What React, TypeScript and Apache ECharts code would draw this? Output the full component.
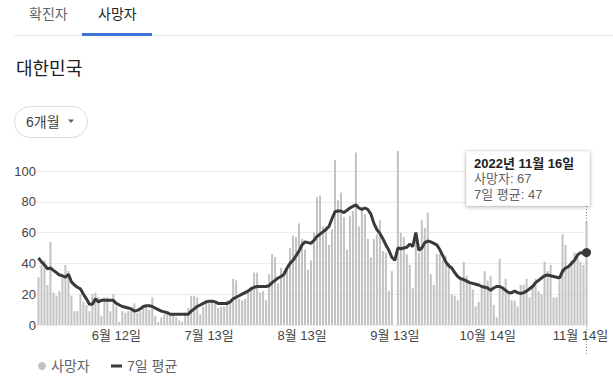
import React, { useEffect, useRef } from 'react';
import * as echarts from 'echarts';

const YEAR = 2022;
const START_MONTH = 5;
const START_DAY = 17;

const TABS = ['확진자', '사망자'];
const REGION = '대한민국';
const RANGE = '6개월';
const SERIES_NAMES = ['사망자', '7일 평균'];
const TICK_LABELS = ['6월 12일', '7월 13일', '8월 13일', '9월 13일', '10월 14일', '11월 14일'];
const Y_TICKS = [0, 20, 40, 60, 80, 100];

// daily deaths, 2022-05-17 .. 2022-11-16
const DEATHS = [
  31, 39, 42, 26, 54, 21, 19, 22, 32, 39, 35, 19, 9, 9, 20, 15, 13, 9, 20, 21, 18, 6, 18, 18, 9, 20, 12, 2, 9, 8, 9, 10, 14, 8, 9, 12, 13, 10, 18, 6, 2, 5, 7, 7, 7,
  7, 5, 3, 2, 8, 11, 19, 19, 18, 7, 12, 16, 15, 15, 14, 11, 12, 12, 16, 16, 30, 29, 17, 16, 17, 23, 25, 34, 34, 21, 22, 16, 33, 46, 44, 27, 37, 35, 36, 50, 58, 57, 66, 56, 49, 36, 42, 60,
  83, 84, 64, 64, 52, 62, 107, 81, 86, 70, 49, 71, 74, 112, 64, 77, 72, 56, 44, 56, 59, 68, 48, 47, 22, 35, 0, 113,
  60, 57, 46, 39, 24, 58, 47, 68, 63, 73, 33, 26, 46, 46,
  42, 45, 40, 20, 19, 16, 29, 41, 32, 27, 23, 12, 15, 24, 35, 29, 32, 13, 5, 43,
  24, 30, 20, 16, 16, 12, 26, 26,
  30, 18, 26, 30, 22, 20, 41, 35, 39, 18, 18, 29, 59, 52, 38, 42, 47, 46, 41, 39, 67,
];

// 7-day average as drawn
const AVG7 = [
  43.5, 41, 39, 36.5, 37, 35.5, 34, 32.5, 32, 31, 33, 28, 26, 24.5, 23.5, 20, 17, 13.5, 13.5, 17, 15, 16, 16, 16, 16, 16, 14, 13, 12, 11.5, 11, 10.5, 9, 9.5, 10.5, 12, 12.5, 12.5, 12, 11, 10, 9, 8.5, 8, 7,
  7, 7, 7, 7, 7, 7, 9, 10.5, 12, 13, 14, 15, 15.5, 15.5, 15, 14, 14, 14, 14, 15, 17, 18, 19, 20, 21, 22, 23.5, 24.5, 25, 25, 25, 25, 25.5, 27.5, 29, 30.5, 31.5, 33, 37, 40, 42, 45, 48, 52, 54, 53.5, 53, 55,
  57.5, 59, 60.5, 62, 64, 69, 73.5, 74, 74, 73, 74.5, 76, 77, 78, 76, 75, 76, 75, 72, 66, 62, 59.5, 56, 52, 48.5, 44, 42, 50, 49.5, 50, 50.5, 52.5, 51, 60, 48.5, 50, 53.5, 54.5, 54, 53, 52, 49, 45, 41, 38.5, 37, 34, 31.5, 30, 29.5, 28.5, 27.5, 27, 26.5, 26, 25, 24.5, 24, 22.5, 24, 25, 25,
  24, 22.5, 21, 21, 22, 21, 20.5, 21, 22, 23.5, 25, 27.5, 29, 30.5, 32, 32.5, 32, 31.5, 31, 30.5, 35, 37, 38, 40, 42, 45.5, 47, 46.5, 47,
];

const FONT = "Arial, 'Liberation Sans', 'Noto Sans CJK KR', sans-serif";
const BAR_COLOR = '#c2c2c2';
const LINE_COLOR = '#3a3a3a';

function buildCategories(): string[] {
  const out: string[] = [];
  const t0 = Date.UTC(YEAR, START_MONTH - 1, START_DAY);
  for (let i = 0; i < DEATHS.length; i++) {
    const d = new Date(t0 + i * 86400000);
    out.push(`${d.getUTCMonth() + 1}월 ${d.getUTCDate()}일`);
  }
  return out;
}

function txt(text: string, x: number, y: number, size: number, fill: string, weight = 'normal', z = 10) {
  return {
    type: 'text',
    x,
    y,
    z,
    style: {
      text,
      fill,
      font: `${weight} ${size}px ${FONT}`,
      textAlign: 'left',
      textVerticalAlign: 'middle',
      align: 'left',
      verticalAlign: 'middle',
    },
  };
}

export default function App() {
  const ref = useRef<HTMLDivElement>(null);

  useEffect(() => {
    const el = ref.current;
    if (!el) return;
    const chart = echarts.init(el, null, { renderer: 'svg' });
    const cats = buildCategories();
    const last = DEATHS.length - 1;

    const option: any = {
      animation: false,
      backgroundColor: '#ffffff',
      textStyle: { fontFamily: FONT },
      grid: { left: 37, right: 25, top: 171, bottom: 60, containLabel: false },
      xAxis: {
        type: 'category',
        data: cats,
        boundaryGap: true,
        axisLine: { show: false },
        axisTick: { show: false },
        axisLabel: {
          interval: (_i: number, v: string) => TICK_LABELS.includes(v),
          fontSize: 13,
          color: '#444',
          margin: 4,
          fontFamily: FONT,
        },
        splitLine: { show: false },
      },
      yAxis: {
        type: 'value',
        min: Y_TICKS[0],
        max: Y_TICKS[Y_TICKS.length - 1],
        interval: Y_TICKS[1] - Y_TICKS[0],
        axisLine: { show: false },
        axisTick: { show: false },
        axisLabel: { fontSize: 13, color: '#444', margin: 1, fontFamily: FONT },
        splitLine: { lineStyle: { color: '#ececec', width: 1 } },
      },
      legend: [
        {
          data: [{ name: SERIES_NAMES[0], icon: 'circle' }],
          left: 38,
          top: 359,
          padding: 0,
          itemWidth: 8,
          itemHeight: 8,
          selectedMode: false,
          textStyle: { fontSize: 14, color: '#5f6368', fontFamily: FONT },
        },
        {
          data: [{ name: SERIES_NAMES[1], icon: 'rect' }],
          left: 111,
          top: 359,
          padding: 0,
          itemWidth: 11,
          itemHeight: 3,
          selectedMode: false,
          textStyle: { fontSize: 14, color: '#5f6368', fontFamily: FONT },
        },
      ],
      series: [
        {
          name: SERIES_NAMES[0],
          type: 'bar',
          data: DEATHS,
          barWidth: 2,
          clip: false,
          itemStyle: { color: BAR_COLOR },
          emphasis: { disabled: true },
          z: 2,
        },
        {
          name: SERIES_NAMES[1],
          type: 'line',
          data: AVG7,
          showSymbol: true,
          showAllSymbol: true,
          symbol: (_v: any, p: any) => (p.dataIndex === last ? 'circle' : 'none'),
          symbolSize: 9,
          lineStyle: { color: LINE_COLOR, width: 3 },
          itemStyle: { color: LINE_COLOR },
          emphasis: { disabled: true },
          z: 5,
        },
      ],
    };
    chart.setOption(option);

    const p = chart.convertToPixel({ gridIndex: 0 }, [last, AVG7[last]]) as number[];
    const px = p[0];
    const boxW = 124;
    const boxH = 55;
    const boxX = px + 3.5 - boxW;
    const boxY = 151;

    const graphic: any[] = [
      txt(TABS[0], 29, 14, 14, '#5f6368'),
      txt(TABS[1], 98, 14, 14, '#202124'),
      { type: 'line', shape: { x1: 14, y1: 35.5, x2: 613, y2: 35.5 }, style: { stroke: '#e8eaed', lineWidth: 1 } },
      { type: 'rect', shape: { x: 82, y: 33, width: 70, height: 3 }, style: { fill: '#3d72d8' } },
      txt(REGION, 16, 69, 18, '#202124'),
      {
        type: 'rect',
        shape: { x: 14.5, y: 106.5, width: 73, height: 31, r: 15.5 },
        style: { fill: '#ffffff', stroke: '#dadce0', lineWidth: 1 },
      },
      txt(RANGE, 26, 122, 14, '#3c4043'),
      { type: 'polygon', shape: { points: [[68, 119.5], [74, 119.5], [71, 123]] }, style: { fill: '#5f6368' } },
      {
        type: 'line',
        z: 1,
        shape: { x1: px, y1: boxY + boxH, x2: px, y2: 355 },
        style: { stroke: '#8a8a8a', lineWidth: 1, lineDash: [1, 2] },
      },
      {
        type: 'rect',
        z: 50,
        shape: { x: boxX, y: boxY, width: boxW, height: boxH },
        style: {
          fill: '#ffffff',
          stroke: 'rgba(0,0,0,0.06)',
          lineWidth: 1,
          shadowBlur: 4,
          shadowColor: 'rgba(0,0,0,0.28)',
          shadowOffsetY: 1,
        },
      },
      txt(`${YEAR}년 ${cats[last]}`, boxX + 8, boxY + 12.5, 13, '#202124', 'bold', 60),
      txt(`${SERIES_NAMES[0]}: ${DEATHS[last]}`, boxX + 8, boxY + 27.5, 13, '#5f6368', 'normal', 60),
      txt(`${SERIES_NAMES[1]}: ${Math.round(AVG7[last])}`, boxX + 8, boxY + 43, 13, '#5f6368', 'normal', 60),
    ];
    chart.setOption({ graphic });

    return () => chart.dispose();
  }, []);

  return (
    <div
      ref={ref}
      style={{ position: 'fixed', left: 0, top: 0, width: 613, height: 385, background: '#fff' }}
    />
  );
}
